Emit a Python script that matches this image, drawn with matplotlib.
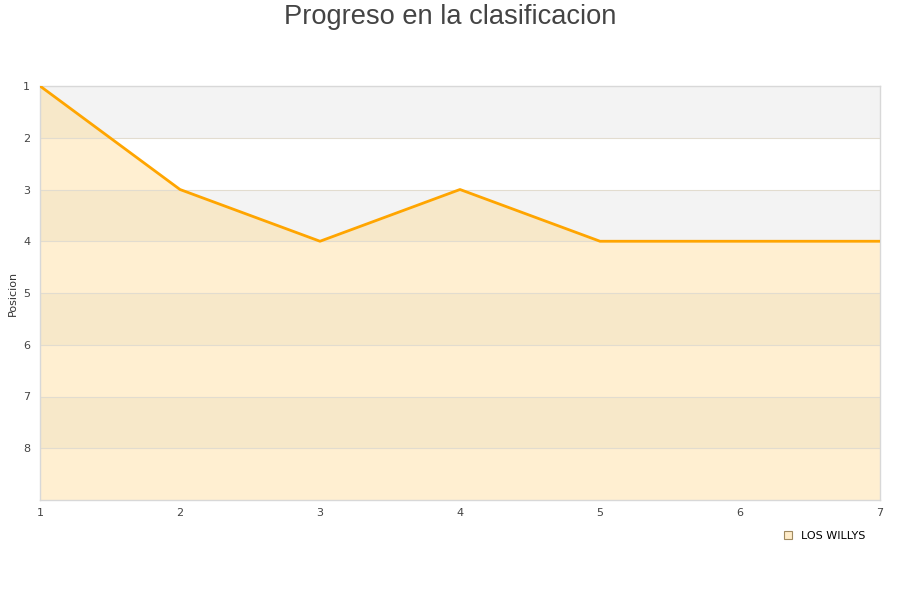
import numpy as np
import matplotlib
matplotlib.use("Agg")
from matplotlib import pyplot as plt

jornadas = [1, 2, 3, 4, 5, 6, 7]
posicion = [1, 3, 4, 3, 4, 4, 4]
equipo = "LOS WILLYS"
y_ticks = [1, 2, 3, 4, 5, 6, 7, 8]

fig = plt.figure(figsize=(9, 6), dpi=100)
ax = fig.add_axes([40/900, 1 - 500/600, 840/900, 414/600])

# alternating background bands
for i in range(1, 9):
	color = "#f3f3f3" if i % 2 == 1 else "white"
	ax.axhspan(i, i + 1, color=color, zorder=0, lw=0)

ax.fill_between(jornadas, posicion, 9, color="#ffd98c", alpha=0.4, lw=0, zorder=1)
ax.plot(jornadas, posicion, color="#ffa500", lw=2, zorder=3)

for t in y_ticks[1:]:
	ax.axhline(t, color="#e2dccf", lw=0.8, zorder=2)

ax.set_xlim(1, 7)
ax.set_ylim(9, 1)
ax.set_yticks(y_ticks)
ax.set_xticks(jornadas)
ax.tick_params(length=0, labelsize=8, colors="#444444", pad=7)
ax.tick_params(axis="x", pad=6)
for s in ax.spines.values():
	s.set_color("#d8d8d8")
	s.set_linewidth(1)

ax.set_ylabel("Posicion", fontsize=8, color="#333333", labelpad=4)
fig.text(0.5, 1 - 17/600, "Progreso en la clasificacion", fontsize=19.6, color="#444444",
	ha="center", va="center", family="Liberation Sans")

leg = ax.legend([plt.Rectangle((0, 0), 1, 1, fc="#ffecc9", ec="#a08a60", lw=0.8)], [equipo],
	loc="upper right", bbox_to_anchor=(0.992, -0.055), frameon=False, fontsize=8,
	handlelength=0.7, handleheight=0.7, handletextpad=0.8, borderpad=0.2)

fig.savefig("out.png", dpi=100)
